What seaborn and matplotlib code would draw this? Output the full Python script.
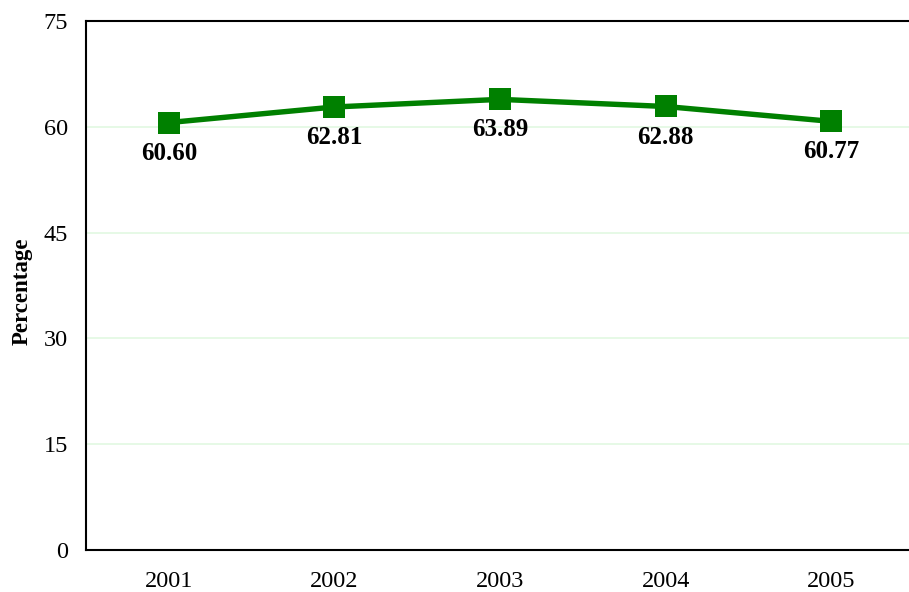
import matplotlib
matplotlib.use("Agg")
import matplotlib.pyplot as plt
from matplotlib.ticker import FixedLocator
import seaborn as sns
import pandas as pd

# Data
years = ["2001", "2002", "2003", "2004", "2005"]
percentage = [60.60, 62.81, 63.89, 62.88, 60.77]
yticks = [0, 15, 30, 45, 60, 75]

df = pd.DataFrame({"Year": years, "Percentage": percentage})

sns.set_style("white")
plt.rcParams["font.family"] = ["Liberation Serif", "DejaVu Serif"]
plt.rcParams["text.color"] = "black"
plt.rcParams["axes.labelcolor"] = "black"
plt.rcParams["xtick.color"] = "black"
plt.rcParams["ytick.color"] = "black"

fig = plt.figure(figsize=(9.09, 5.92), dpi=100)
ax = fig.add_axes([86 / 909, 1 - 550 / 592, 828 / 909, (550 - 21) / 592])

for y in yticks[1:-1]:
    ax.axhline(y, color="#e2f8e2", lw=1.2, zorder=0)

sns.lineplot(data=df, x="Year", y="Percentage", ax=ax, color="#008000",
             lw=3.9, marker="s", markersize=15.5, markeredgewidth=0, sort=False)

for i, v in enumerate(percentage):
    ax.annotate(f"{v:.2f}", (i, v), xytext=(0, -22), textcoords="offset points",
                ha="center", va="center", fontsize=18, fontweight="bold")

ax.set_xlim(-0.5, 4.5)
ax.set_ylim(0, 75)
ax.set_yticks(yticks)
ax.set_xlabel("")
ax.set_ylabel("Percentage", fontsize=16.5, fontweight="bold", labelpad=8)
ax.yaxis.label.set_y(0.49)

ax.xaxis.set_minor_locator(FixedLocator([0.5, 1.5, 2.5, 3.5]))
ax.tick_params(axis="x", which="major", length=0, labelsize=17.5, pad=15)
ax.tick_params(axis="x", which="minor", direction="in", length=5, width=1, color="black")
ax.tick_params(axis="y", which="major", direction="in", length=5, width=1, color="#555555",
               labelsize=17.5, pad=13)

for side in ["left", "bottom", "top"]:
    ax.spines[side].set_color("black")
    ax.spines[side].set_linewidth(1.5)
ax.spines["right"].set_visible(False)

fig.savefig("out.png", dpi=100)
plt.close()
